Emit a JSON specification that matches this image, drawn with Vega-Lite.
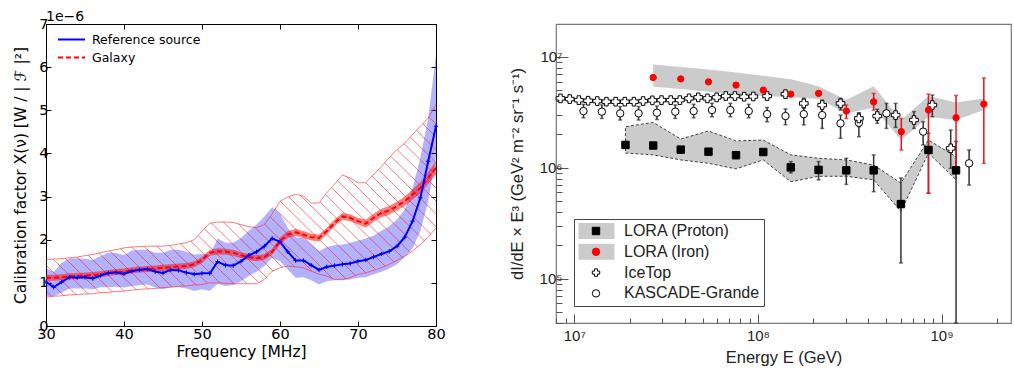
{
"$schema": "https://vega.github.io/schema/vega-lite/v6.json",
"background": "white",
"padding": {"left": 13, "top": 9, "right": 0, "bottom": 0},
"spacing": 62,
"config": {"font": "DejaVu Sans", "view": {"stroke": null}},
"resolve": {"scale": {"color": "independent", "strokeDash": "independent", "fill": "independent", "stroke": "independent", "shape": "independent"}, "legend": {"color": "independent", "strokeDash": "independent", "fill": "independent", "stroke": "independent", "shape": "independent"}},
"datasets": {
"left": [
{"f":30,"b":1.02,"blo":0.69,"bhi":1.33,"r":1.12,"rlo":1.05,"rhi":1.19,"hlo":0.67,"hhi":1.54},
{"f":31,"b":0.90,"blo":0.69,"bhi":1.26,"r":1.12,"rlo":1.05,"rhi":1.19,"hlo":0.69,"hhi":1.55},
{"f":32,"b":1.02,"blo":0.77,"bhi":1.46,"r":1.13,"rlo":1.06,"rhi":1.20,"hlo":0.70,"hhi":1.56},
{"f":33,"b":1.13,"blo":0.87,"bhi":1.57,"r":1.15,"rlo":1.08,"rhi":1.22,"hlo":0.72,"hhi":1.58},
{"f":34,"b":1.12,"blo":0.87,"bhi":1.57,"r":1.16,"rlo":1.09,"rhi":1.23,"hlo":0.73,"hhi":1.60},
{"f":35,"b":1.13,"blo":0.87,"bhi":1.56,"r":1.17,"rlo":1.10,"rhi":1.24,"hlo":0.74,"hhi":1.63},
{"f":36,"b":1.10,"blo":0.85,"bhi":1.53,"r":1.18,"rlo":1.11,"rhi":1.25,"hlo":0.75,"hhi":1.66},
{"f":37,"b":1.17,"blo":0.90,"bhi":1.62,"r":1.20,"rlo":1.13,"rhi":1.27,"hlo":0.77,"hhi":1.70},
{"f":38,"b":1.23,"blo":0.90,"bhi":1.70,"r":1.23,"rlo":1.16,"rhi":1.30,"hlo":0.78,"hhi":1.74},
{"f":39,"b":1.24,"blo":0.91,"bhi":1.69,"r":1.25,"rlo":1.18,"rhi":1.32,"hlo":0.80,"hhi":1.77},
{"f":40,"b":1.21,"blo":0.89,"bhi":1.64,"r":1.26,"rlo":1.19,"rhi":1.33,"hlo":0.81,"hhi":1.81},
{"f":41,"b":1.27,"blo":0.92,"bhi":1.75,"r":1.29,"rlo":1.22,"rhi":1.36,"hlo":0.83,"hhi":1.83},
{"f":42,"b":1.30,"blo":0.95,"bhi":1.77,"r":1.31,"rlo":1.24,"rhi":1.38,"hlo":0.85,"hhi":1.84},
{"f":43,"b":1.32,"blo":0.96,"bhi":1.77,"r":1.32,"rlo":1.25,"rhi":1.39,"hlo":0.86,"hhi":1.85},
{"f":44,"b":1.26,"blo":0.89,"bhi":1.70,"r":1.33,"rlo":1.26,"rhi":1.40,"hlo":0.87,"hhi":1.85},
{"f":45,"b":1.23,"blo":0.85,"bhi":1.70,"r":1.35,"rlo":1.28,"rhi":1.42,"hlo":0.89,"hhi":1.85},
{"f":46,"b":1.30,"blo":0.90,"bhi":1.77,"r":1.36,"rlo":1.29,"rhi":1.43,"hlo":0.90,"hhi":1.87},
{"f":47,"b":1.29,"blo":0.90,"bhi":1.77,"r":1.38,"rlo":1.31,"rhi":1.45,"hlo":0.92,"hhi":1.90},
{"f":48,"b":1.24,"blo":0.87,"bhi":1.72,"r":1.39,"rlo":1.32,"rhi":1.46,"hlo":0.93,"hhi":1.93},
{"f":49,"b":1.20,"blo":0.81,"bhi":1.66,"r":1.43,"rlo":1.36,"rhi":1.50,"hlo":0.95,"hhi":2.00},
{"f":50,"b":1.22,"blo":0.85,"bhi":1.67,"r":1.53,"rlo":1.46,"rhi":1.60,"hlo":0.96,"hhi":2.20},
{"f":51,"b":1.22,"blo":0.81,"bhi":1.66,"r":1.70,"rlo":1.63,"rhi":1.77,"hlo":1.00,"hhi":2.38},
{"f":52,"b":1.49,"blo":0.98,"bhi":2.03,"r":1.73,"rlo":1.66,"rhi":1.80,"hlo":1.00,"hhi":2.41},
{"f":53,"b":1.41,"blo":0.93,"bhi":1.93,"r":1.72,"rlo":1.65,"rhi":1.79,"hlo":0.99,"hhi":2.41},
{"f":54,"b":1.40,"blo":0.95,"bhi":1.93,"r":1.70,"rlo":1.63,"rhi":1.77,"hlo":0.98,"hhi":2.40},
{"f":55,"b":1.50,"blo":1.04,"bhi":2.04,"r":1.64,"rlo":1.57,"rhi":1.71,"hlo":0.98,"hhi":2.35},
{"f":56,"b":1.64,"blo":1.16,"bhi":2.21,"r":1.60,"rlo":1.53,"rhi":1.67,"hlo":0.98,"hhi":2.30},
{"f":57,"b":1.72,"blo":1.26,"bhi":2.35,"r":1.57,"rlo":1.50,"rhi":1.64,"hlo":0.98,"hhi":2.28},
{"f":58,"b":1.85,"blo":1.39,"bhi":2.54,"r":1.60,"rlo":1.53,"rhi":1.67,"hlo":1.08,"hhi":2.35},
{"f":59,"b":2.03,"blo":1.58,"bhi":2.75,"r":1.72,"rlo":1.65,"rhi":1.79,"hlo":1.27,"hhi":2.60},
{"f":60,"b":1.95,"blo":1.50,"bhi":2.60,"r":1.97,"rlo":1.89,"rhi":2.05,"hlo":1.35,"hhi":2.89},
{"f":61,"b":1.72,"blo":1.31,"bhi":2.27,"r":2.12,"rlo":2.04,"rhi":2.20,"hlo":1.39,"hhi":2.99},
{"f":62,"b":1.52,"blo":1.12,"bhi":2.06,"r":2.17,"rlo":2.09,"rhi":2.25,"hlo":1.37,"hhi":3.05},
{"f":63,"b":1.52,"blo":1.13,"bhi":2.04,"r":2.12,"rlo":2.04,"rhi":2.20,"hlo":1.35,"hhi":3.01},
{"f":64,"b":1.41,"blo":1.06,"bhi":1.89,"r":2.06,"rlo":1.98,"rhi":2.14,"hlo":1.27,"hhi":2.85},
{"f":65,"b":1.30,"blo":0.96,"bhi":1.73,"r":2.04,"rlo":1.96,"rhi":2.12,"hlo":1.20,"hhi":2.85},
{"f":66,"b":1.37,"blo":1.04,"bhi":1.83,"r":2.20,"rlo":2.12,"rhi":2.28,"hlo":1.16,"hhi":3.09},
{"f":67,"b":1.40,"blo":1.06,"bhi":1.87,"r":2.39,"rlo":2.31,"rhi":2.47,"hlo":1.08,"hhi":3.29},
{"f":68,"b":1.43,"blo":1.06,"bhi":1.89,"r":2.54,"rlo":2.46,"rhi":2.62,"hlo":1.08,"hhi":3.50},
{"f":69,"b":1.45,"blo":1.08,"bhi":1.93,"r":2.51,"rlo":2.43,"rhi":2.59,"hlo":1.12,"hhi":3.43},
{"f":70,"b":1.50,"blo":1.12,"bhi":1.98,"r":2.43,"rlo":2.35,"rhi":2.51,"hlo":1.20,"hhi":3.32},
{"f":71,"b":1.53,"blo":1.13,"bhi":2.03,"r":2.37,"rlo":2.28,"rhi":2.46,"hlo":1.23,"hhi":3.32},
{"f":72,"b":1.60,"blo":1.20,"bhi":2.10,"r":2.51,"rlo":2.42,"rhi":2.60,"hlo":1.29,"hhi":3.51},
{"f":73,"b":1.67,"blo":1.26,"bhi":2.21,"r":2.62,"rlo":2.52,"rhi":2.72,"hlo":1.35,"hhi":3.70},
{"f":74,"b":1.73,"blo":1.33,"bhi":2.31,"r":2.68,"rlo":2.58,"rhi":2.78,"hlo":1.43,"hhi":3.90},
{"f":75,"b":1.85,"blo":1.43,"bhi":2.47,"r":2.78,"rlo":2.68,"rhi":2.88,"hlo":1.52,"hhi":4.09},
{"f":76,"b":2.06,"blo":1.60,"bhi":2.70,"r":2.89,"rlo":2.78,"rhi":3.00,"hlo":1.62,"hhi":4.24},
{"f":77,"b":2.43,"blo":1.80,"bhi":3.20,"r":3.05,"rlo":2.93,"rhi":3.17,"hlo":1.74,"hhi":4.44},
{"f":78,"b":2.97,"blo":2.20,"bhi":3.90,"r":3.20,"rlo":3.07,"rhi":3.33,"hlo":1.89,"hhi":4.63},
{"f":79,"b":3.82,"blo":2.89,"bhi":4.82,"r":3.43,"rlo":3.29,"rhi":3.57,"hlo":2.06,"hhi":4.82},
{"f":80,"b":4.63,"blo":3.90,"bhi":6.29,"r":3.67,"rlo":3.52,"rhi":3.82,"hlo":2.28,"hhi":5.13}
],
"proton": [
{"E":1.90e7,"v":1.61e6,"blo":1.36e6,"bhi":2.35e6},
{"E":2.69e7,"v":1.59e6,"blo":1.31e6,"bhi":2.57e6},
{"E":3.80e7,"v":1.46e6,"blo":1.18e6,"bhi":1.82e6},
{"E":5.38e7,"v":1.40e6,"blo":1.10e6,"bhi":2.15e6},
{"E":7.60e7,"v":1.30e6,"blo":0.98e6,"bhi":1.75e6},
{"E":1.07e8,"v":1.39e6,"blo":1.18e6,"bhi":1.78e6},
{"E":1.51e8,"v":1.01e6,"lo":0.90e6,"hi":1.14e6,"blo":7.5e5,"bhi":1.31e6},
{"E":2.14e8,"v":9.6e5,"lo":7.8e5,"hi":1.14e6,"blo":8.4e5,"bhi":1.22e6},
{"E":3.03e8,"v":9.5e5,"lo":7.1e5,"hi":1.22e6,"blo":8.4e5,"bhi":1.18e6},
{"E":4.27e8,"v":9.5e5,"lo":6.1e5,"hi":1.31e6,"blo":7.8e5,"bhi":1.06e6},
{"E":6.01e8,"v":4.72e5,"lo":1.39e5,"hi":8.1e5,"blo":4.05e5,"bhi":7.3e5},
{"E":8.49e8,"v":1.45e6,"lo":5.9e5,"hi":2.05e6,"blo":1.36e6,"bhi":1.78e6},
{"E":1.20e9,"v":9.5e5,"lo":4.0e4,"hi":1.73e6,"blo":7.8e5,"bhi":1.26e6}
],
"iron": [
{"E":2.69e7,"v":6.52e6,"blo":5.38e6,"bhi":8.53e6},
{"E":3.80e7,"v":6.34e6,"blo":5.13e6,"bhi":8.13e6},
{"E":5.38e7,"v":5.96e6,"blo":4.85e6,"bhi":7.70e6},
{"E":7.60e7,"v":5.57e6,"blo":4.59e6,"bhi":7.23e6},
{"E":1.07e8,"v":5.02e6,"blo":4.44e6,"bhi":6.75e6},
{"E":1.51e8,"v":4.62e6,"blo":4.32e6,"bhi":6.30e6},
{"E":2.14e8,"v":4.69e6,"blo":4.17e6,"bhi":5.45e6},
{"E":3.03e8,"v":3.25e6,"lo":2.79e6,"hi":3.68e6,"blo":3.10e6,"bhi":4.08e6},
{"E":4.27e8,"v":3.94e6,"lo":3.32e6,"hi":4.69e6,"blo":3.48e6,"bhi":5.45e6},
{"E":6.04e8,"v":2.12e6,"lo":1.45e6,"hi":2.79e6,"blo":1.78e6,"bhi":2.70e6},
{"E":8.49e8,"v":3.32e6,"lo":5.9e5,"hi":4.62e6,"blo":2.89e6,"bhi":4.44e6},
{"E":1.20e9,"v":2.83e6,"lo":1.0e6,"hi":4.5e6,"blo":2.70e6,"bhi":3.89e6},
{"E":1.70e9,"v":3.76e6,"lo":1.10e6,"hi":6.47e6,"blo":3.32e6,"bhi":4.23e6}
],
"icetop": [
{"E":8.41e6,"v":4.23e6},{"E":9.44e6,"v":4.17e6},{"E":1.059e7,"v":4.08e6},{"E":1.189e7,"v":4.03e6},
{"E":1.334e7,"v":4.00e6},{"E":1.496e7,"v":3.95e6},{"E":1.679e7,"v":3.95e6},{"E":1.884e7,"v":3.95e6},
{"E":2.113e7,"v":3.95e6},{"E":2.371e7,"v":4.00e6},{"E":2.661e7,"v":4.06e6},{"E":2.985e7,"v":4.08e6},
{"E":3.350e7,"v":4.08e6},{"E":3.758e7,"v":4.08e6},{"E":4.217e7,"v":4.23e6},{"E":4.732e7,"v":4.32e6},
{"E":5.309e7,"v":4.23e6},{"E":5.957e7,"v":4.32e6},{"E":6.683e7,"v":4.44e6},{"E":7.499e7,"v":4.44e6},
{"E":8.414e7,"v":4.38e6},{"E":9.441e7,"v":4.40e6},
{"E":1.122e8,"v":4.44e6},{"E":1.413e8,"v":4.62e6},
{"E":1.778e8,"v":3.81e6,"lo":3.44e6,"hi":4.23e6},
{"E":2.239e8,"v":3.68e6,"lo":3.12e6,"hi":4.08e6},
{"E":2.818e8,"v":3.81e6,"lo":3.32e6,"hi":4.23e6},
{"E":3.548e8,"v":2.79e6,"lo":2.35e6,"hi":3.14e6},
{"E":4.467e8,"v":2.93e6,"lo":2.52e6,"hi":3.37e6},
{"E":5.623e8,"v":2.99e6,"lo":2.32e6,"hi":3.81e6},
{"E":7.079e8,"v":2.70e6,"lo":2.27e6,"hi":3.21e6},
{"E":8.913e8,"v":3.68e6,"lo":2.89e6,"hi":4.53e6},
{"E":1.122e9,"v":1.50e6,"lo":9.9e5,"hi":2.19e6}
],
"kg": [
{"E":1.122e7,"v":3.25e6,"lo":2.83e6,"hi":3.74e6},
{"E":1.413e7,"v":3.21e6,"lo":2.79e6,"hi":3.69e6},
{"E":1.778e7,"v":3.10e6,"lo":2.70e6,"hi":3.57e6},
{"E":2.239e7,"v":3.10e6,"lo":2.70e6,"hi":3.57e6},
{"E":2.818e7,"v":3.14e6,"lo":2.73e6,"hi":3.61e6},
{"E":3.548e7,"v":3.21e6,"lo":2.79e6,"hi":3.69e6},
{"E":4.467e7,"v":3.25e6,"lo":2.83e6,"hi":3.74e6},
{"E":5.623e7,"v":3.32e6,"lo":2.89e6,"hi":3.82e6},
{"E":7.079e7,"v":3.32e6,"lo":2.89e6,"hi":3.82e6},
{"E":8.913e7,"v":3.25e6,"lo":2.83e6,"hi":3.74e6},
{"E":1.122e8,"v":3.05e6,"lo":2.60e6,"hi":3.50e6},
{"E":1.413e8,"v":2.93e6,"lo":2.45e6,"hi":3.40e6},
{"E":1.778e8,"v":3.05e6,"lo":2.44e6,"hi":3.56e6},
{"E":2.239e8,"v":2.99e6,"lo":2.27e6,"hi":3.44e6},
{"E":2.818e8,"v":2.52e6,"lo":1.85e6,"hi":2.99e6},
{"E":3.548e8,"v":2.55e6,"lo":1.91e6,"hi":3.10e6},
{"E":5.012e8,"v":3.10e6,"lo":2.27e6,"hi":3.81e6},
{"E":7.943e8,"v":2.12e6,"lo":1.61e6,"hi":2.61e6},
{"E":1.413e9,"v":1.10e6,"lo":7.0e5,"hi":1.45e6}
],
"note": [{"label": "1e−6"}]
},
"hconcat": [
{
"width": 390, "height": 302,
"data": {"name": "left"},
"view": {"stroke": "black", "strokeWidth": 1},
"resolve": {"axis": {"x": "independent", "y": "independent"}},
"layer": [
{"mark": {"type": "area", "color": "#0000ff", "opacity": 0.3},
 "encoding": {
  "x": {"field": "f", "type": "quantitative", "scale": {"domain": [30, 80], "nice": false, "zero": false},
        "axis": {"orient": "bottom", "values": [30,40,50,60,70,80], "title": "Frequency [MHz]", "tickSize": -5, "tickColor": "black", "domain": false, "grid": false, "labelFont": "DejaVu Sans", "labelFontSize": 14.5, "labelColor": "black", "labelPadding": 6, "labelFlush": false, "titleFont": "DejaVu Sans", "titleFontSize": 15.5, "titleFontWeight": "normal", "titleColor": "black", "titlePadding": 4}},
  "y": {"field": "blo", "type": "quantitative", "scale": {"domain": [0, 7], "nice": false, "zero": false},
        "axis": {"orient": "left", "values": [0,1,2,3,4,5,6,7], "title": "Calibration factor X(ν) [W / | ℱ |²]", "tickSize": -5, "tickColor": "black", "domain": false, "grid": false, "labelFont": "DejaVu Sans", "labelFontSize": 14.5, "labelColor": "black", "labelPadding": 3, "labelFlush": false, "titleFont": "DejaVu Sans", "titleFontSize": 15.5, "titleFontWeight": "normal", "titleColor": "black", "titlePadding": 10}},
  "y2": {"field": "bhi"}
 }},
{"mark": {"type": "area", "fill": {"gradient": "linear", "x1": 0, "y1": 1, "x2": 1.2, "y2": 0.4, "stops": [
{"offset":0.0095,"color":"rgba(255,0,0,0)"},{"offset":0.0111,"color":"rgba(235,30,30,0.6)"},{"offset":0.0127,"color":"rgba(255,0,0,0)"},
{"offset":0.0317,"color":"rgba(255,0,0,0)"},{"offset":0.0333,"color":"rgba(235,30,30,0.6)"},{"offset":0.0349,"color":"rgba(255,0,0,0)"},
{"offset":0.0540,"color":"rgba(255,0,0,0)"},{"offset":0.0556,"color":"rgba(235,30,30,0.6)"},{"offset":0.0572,"color":"rgba(255,0,0,0)"},
{"offset":0.0762,"color":"rgba(255,0,0,0)"},{"offset":0.0778,"color":"rgba(235,30,30,0.6)"},{"offset":0.0794,"color":"rgba(255,0,0,0)"},
{"offset":0.0984,"color":"rgba(255,0,0,0)"},{"offset":0.1000,"color":"rgba(235,30,30,0.6)"},{"offset":0.1016,"color":"rgba(255,0,0,0)"},
{"offset":0.1206,"color":"rgba(255,0,0,0)"},{"offset":0.1222,"color":"rgba(235,30,30,0.6)"},{"offset":0.1238,"color":"rgba(255,0,0,0)"},
{"offset":0.1428,"color":"rgba(255,0,0,0)"},{"offset":0.1444,"color":"rgba(235,30,30,0.6)"},{"offset":0.1460,"color":"rgba(255,0,0,0)"},
{"offset":0.1651,"color":"rgba(255,0,0,0)"},{"offset":0.1667,"color":"rgba(235,30,30,0.6)"},{"offset":0.1683,"color":"rgba(255,0,0,0)"},
{"offset":0.1873,"color":"rgba(255,0,0,0)"},{"offset":0.1889,"color":"rgba(235,30,30,0.6)"},{"offset":0.1905,"color":"rgba(255,0,0,0)"},
{"offset":0.2095,"color":"rgba(255,0,0,0)"},{"offset":0.2111,"color":"rgba(235,30,30,0.6)"},{"offset":0.2127,"color":"rgba(255,0,0,0)"},
{"offset":0.2317,"color":"rgba(255,0,0,0)"},{"offset":0.2333,"color":"rgba(235,30,30,0.6)"},{"offset":0.2349,"color":"rgba(255,0,0,0)"},
{"offset":0.2540,"color":"rgba(255,0,0,0)"},{"offset":0.2556,"color":"rgba(235,30,30,0.6)"},{"offset":0.2572,"color":"rgba(255,0,0,0)"},
{"offset":0.2762,"color":"rgba(255,0,0,0)"},{"offset":0.2778,"color":"rgba(235,30,30,0.6)"},{"offset":0.2794,"color":"rgba(255,0,0,0)"},
{"offset":0.2984,"color":"rgba(255,0,0,0)"},{"offset":0.3000,"color":"rgba(235,30,30,0.6)"},{"offset":0.3016,"color":"rgba(255,0,0,0)"},
{"offset":0.3206,"color":"rgba(255,0,0,0)"},{"offset":0.3222,"color":"rgba(235,30,30,0.6)"},{"offset":0.3238,"color":"rgba(255,0,0,0)"},
{"offset":0.3428,"color":"rgba(255,0,0,0)"},{"offset":0.3444,"color":"rgba(235,30,30,0.6)"},{"offset":0.3460,"color":"rgba(255,0,0,0)"},
{"offset":0.3651,"color":"rgba(255,0,0,0)"},{"offset":0.3667,"color":"rgba(235,30,30,0.6)"},{"offset":0.3683,"color":"rgba(255,0,0,0)"},
{"offset":0.3873,"color":"rgba(255,0,0,0)"},{"offset":0.3889,"color":"rgba(235,30,30,0.6)"},{"offset":0.3905,"color":"rgba(255,0,0,0)"},
{"offset":0.4095,"color":"rgba(255,0,0,0)"},{"offset":0.4111,"color":"rgba(235,30,30,0.6)"},{"offset":0.4127,"color":"rgba(255,0,0,0)"},
{"offset":0.4317,"color":"rgba(255,0,0,0)"},{"offset":0.4333,"color":"rgba(235,30,30,0.6)"},{"offset":0.4349,"color":"rgba(255,0,0,0)"},
{"offset":0.4540,"color":"rgba(255,0,0,0)"},{"offset":0.4556,"color":"rgba(235,30,30,0.6)"},{"offset":0.4572,"color":"rgba(255,0,0,0)"},
{"offset":0.4762,"color":"rgba(255,0,0,0)"},{"offset":0.4778,"color":"rgba(235,30,30,0.6)"},{"offset":0.4794,"color":"rgba(255,0,0,0)"},
{"offset":0.4984,"color":"rgba(255,0,0,0)"},{"offset":0.5000,"color":"rgba(235,30,30,0.6)"},{"offset":0.5016,"color":"rgba(255,0,0,0)"},
{"offset":0.5206,"color":"rgba(255,0,0,0)"},{"offset":0.5222,"color":"rgba(235,30,30,0.6)"},{"offset":0.5238,"color":"rgba(255,0,0,0)"},
{"offset":0.5428,"color":"rgba(255,0,0,0)"},{"offset":0.5444,"color":"rgba(235,30,30,0.6)"},{"offset":0.5460,"color":"rgba(255,0,0,0)"},
{"offset":0.5651,"color":"rgba(255,0,0,0)"},{"offset":0.5667,"color":"rgba(235,30,30,0.6)"},{"offset":0.5683,"color":"rgba(255,0,0,0)"},
{"offset":0.5873,"color":"rgba(255,0,0,0)"},{"offset":0.5889,"color":"rgba(235,30,30,0.6)"},{"offset":0.5905,"color":"rgba(255,0,0,0)"},
{"offset":0.6095,"color":"rgba(255,0,0,0)"},{"offset":0.6111,"color":"rgba(235,30,30,0.6)"},{"offset":0.6127,"color":"rgba(255,0,0,0)"},
{"offset":0.6317,"color":"rgba(255,0,0,0)"},{"offset":0.6333,"color":"rgba(235,30,30,0.6)"},{"offset":0.6349,"color":"rgba(255,0,0,0)"},
{"offset":0.6540,"color":"rgba(255,0,0,0)"},{"offset":0.6556,"color":"rgba(235,30,30,0.6)"},{"offset":0.6572,"color":"rgba(255,0,0,0)"},
{"offset":0.6762,"color":"rgba(255,0,0,0)"},{"offset":0.6778,"color":"rgba(235,30,30,0.6)"},{"offset":0.6794,"color":"rgba(255,0,0,0)"},
{"offset":0.6984,"color":"rgba(255,0,0,0)"},{"offset":0.7000,"color":"rgba(235,30,30,0.6)"},{"offset":0.7016,"color":"rgba(255,0,0,0)"},
{"offset":0.7206,"color":"rgba(255,0,0,0)"},{"offset":0.7222,"color":"rgba(235,30,30,0.6)"},{"offset":0.7238,"color":"rgba(255,0,0,0)"},
{"offset":0.7428,"color":"rgba(255,0,0,0)"},{"offset":0.7444,"color":"rgba(235,30,30,0.6)"},{"offset":0.7460,"color":"rgba(255,0,0,0)"},
{"offset":0.7651,"color":"rgba(255,0,0,0)"},{"offset":0.7667,"color":"rgba(235,30,30,0.6)"},{"offset":0.7683,"color":"rgba(255,0,0,0)"},
{"offset":0.7873,"color":"rgba(255,0,0,0)"},{"offset":0.7889,"color":"rgba(235,30,30,0.6)"},{"offset":0.7905,"color":"rgba(255,0,0,0)"},
{"offset":0.8095,"color":"rgba(255,0,0,0)"},{"offset":0.8111,"color":"rgba(235,30,30,0.6)"},{"offset":0.8127,"color":"rgba(255,0,0,0)"},
{"offset":0.8317,"color":"rgba(255,0,0,0)"},{"offset":0.8333,"color":"rgba(235,30,30,0.6)"},{"offset":0.8349,"color":"rgba(255,0,0,0)"},
{"offset":0.8540,"color":"rgba(255,0,0,0)"},{"offset":0.8556,"color":"rgba(235,30,30,0.6)"},{"offset":0.8572,"color":"rgba(255,0,0,0)"},
{"offset":0.8762,"color":"rgba(255,0,0,0)"},{"offset":0.8778,"color":"rgba(235,30,30,0.6)"},{"offset":0.8794,"color":"rgba(255,0,0,0)"},
{"offset":0.8984,"color":"rgba(255,0,0,0)"},{"offset":0.9000,"color":"rgba(235,30,30,0.6)"},{"offset":0.9016,"color":"rgba(255,0,0,0)"},
{"offset":0.9206,"color":"rgba(255,0,0,0)"},{"offset":0.9222,"color":"rgba(235,30,30,0.6)"},{"offset":0.9238,"color":"rgba(255,0,0,0)"},
{"offset":0.9428,"color":"rgba(255,0,0,0)"},{"offset":0.9444,"color":"rgba(235,30,30,0.6)"},{"offset":0.9460,"color":"rgba(255,0,0,0)"},
{"offset":0.9651,"color":"rgba(255,0,0,0)"},{"offset":0.9667,"color":"rgba(235,30,30,0.6)"},{"offset":0.9683,"color":"rgba(255,0,0,0)"},
{"offset":0.9873,"color":"rgba(255,0,0,0)"},{"offset":0.9889,"color":"rgba(235,30,30,0.6)"},{"offset":0.9905,"color":"rgba(255,0,0,0)"}
]}},
 "encoding": {
  "x": {"field": "f", "type": "quantitative", "axis": null},
  "y": {"field": "hlo", "type": "quantitative", "axis": null},
  "y2": {"field": "hhi"}
 }},
{"mark": {"type": "line", "color": "#ff3030", "strokeWidth": 0.8, "opacity": 0.8},
 "encoding": {
  "x": {"field": "f", "type": "quantitative", "axis": {"orient": "top", "values": [30,40,50,60,70,80], "labels": false, "title": null, "tickSize": -5, "tickColor": "black", "domain": false, "grid": false}},
  "y": {"field": "hhi", "type": "quantitative", "axis": {"orient": "right", "values": [0,1,2,3,4,5,6,7], "labels": false, "title": null, "tickSize": -5, "tickColor": "black", "domain": false, "grid": false}}
 }},
{"mark": {"type": "line", "color": "#ff3030", "strokeWidth": 0.8, "opacity": 0.8},
 "encoding": {
  "x": {"field": "f", "type": "quantitative", "axis": null},
  "y": {"field": "hlo", "type": "quantitative", "axis": null}
 }},
{"mark": {"type": "area", "color": "#ff0000", "opacity": 0.5},
 "encoding": {
  "x": {"field": "f", "type": "quantitative", "axis": null},
  "y": {"field": "rlo", "type": "quantitative", "axis": null},
  "y2": {"field": "rhi"}
 }},
{"mark": {"type": "line", "strokeWidth": 2},
 "encoding": {
  "x": {"field": "f", "type": "quantitative", "axis": null},
  "y": {"field": "r", "type": "quantitative", "axis": null},
  "color": {"datum": "Galaxy", "type": "nominal", "scale": {"domain": ["Reference source", "Galaxy"], "range": ["#0000ff", "#ff0000"]},
    "legend": {"orient": "top-left", "offset": 5, "padding": 4, "title": null, "symbolType": "stroke", "symbolSize": 729, "symbolStrokeWidth": 2, "clipHeight": 13, "rowPadding": 5, "symbolOffset": 2, "labelOffset": 6, "labelFont": "DejaVu Sans", "labelFontSize": 12.5, "labelFontWeight": "normal", "labelColor": "black"}},
  "strokeDash": {"datum": "Galaxy", "type": "nominal", "scale": {"domain": ["Reference source", "Galaxy"], "range": [[1, 0], [5, 3]]},
    "legend": {"orient": "top-left", "offset": 5, "padding": 4, "title": null, "symbolType": "stroke", "symbolSize": 729, "symbolStrokeWidth": 2, "clipHeight": 13, "rowPadding": 5, "symbolOffset": 2, "labelOffset": 6, "labelFont": "DejaVu Sans", "labelFontSize": 12.5, "labelFontWeight": "normal", "labelColor": "black"}}
 }},
{"mark": {"type": "line", "strokeWidth": 2},
 "encoding": {
  "x": {"field": "f", "type": "quantitative", "axis": null},
  "y": {"field": "b", "type": "quantitative", "axis": null},
  "color": {"datum": "Reference source", "type": "nominal"},
  "strokeDash": {"datum": "Reference source", "type": "nominal"}
 }},
{"mark": {"type": "point", "shape": "M0,-1V1M-1,0H1", "filled": false, "color": "#0000ff", "size": 20, "strokeWidth": 1, "opacity": 1},
 "encoding": {
  "x": {"field": "f", "type": "quantitative", "axis": null},
  "y": {"field": "b", "type": "quantitative", "axis": null}
 }},
{"data": {"name": "note"},
 "mark": {"type": "text", "align": "left", "baseline": "alphabetic", "dy": -3, "font": "DejaVu Sans", "fontSize": 14, "color": "black"},
 "encoding": {
  "text": {"field": "label", "type": "nominal"},
  "x": {"datum": 30, "type": "quantitative", "axis": null},
  "y": {"datum": 7, "type": "quantitative", "axis": null}
 }}
]
},
{
"width": 455, "height": 299,
"view": {"stroke": "#777", "strokeWidth": 1.2},
"resolve": {"axis": {"x": "independent", "y": "independent"}},
"layer": [
{"data": {"name": "iron"},
 "mark": {"type": "area", "opacity": 1},
 "encoding": {
  "x": {"field": "E", "type": "quantitative", "scale": {"type": "log", "domain": [7.95e6, 2.39e9], "nice": false, "zero": false},
        "axis": {"orient": "bottom", "values": [8000000,9000000,10000000,20000000,30000000,40000000,50000000,60000000,70000000,80000000,90000000,100000000,200000000,300000000,400000000,500000000,600000000,700000000,800000000,900000000,1000000000,2000000000],
                 "labelExpr": "datum.value == 10000000 ? '10⁷' : datum.value == 100000000 ? '10⁸' : datum.value == 1000000000 ? '10⁹' : ''",
                 "tickSize": {"condition": {"test": "datum.value == 10000000 || datum.value == 100000000 || datum.value == 1000000000", "value": -9}, "value": -5},
                 "title": "Energy E (GeV)", "domain": false, "grid": false, "labelOverlap": false, "labelFlush": false, "labelPadding": 14, "tickColor": "#555",
                 "labelFont": "Liberation Sans", "labelFontSize": 15, "labelColor": "#222", "titleFont": "Liberation Sans", "titleFontSize": 16.5, "titleFontWeight": "normal", "titleColor": "#222", "titlePadding": 2}},
  "y": {"field": "blo", "type": "quantitative", "stack": null, "scale": {"type": "log", "domain": [4.0e4, 1.98e7], "nice": false, "zero": false, "clamp": true},
        "axis": {"orient": "left", "values": [40000,50000,60000,70000,80000,90000,100000,200000,300000,400000,500000,600000,700000,800000,900000,1000000,2000000,3000000,4000000,5000000,6000000,7000000,8000000,9000000,10000000],
                 "labelExpr": "datum.value == 100000 ? '10⁵' : datum.value == 1000000 ? '10⁶' : datum.value == 10000000 ? '10⁷' : ''",
                 "tickSize": {"condition": {"test": "datum.value == 100000 || datum.value == 1000000 || datum.value == 10000000", "value": -12}, "value": -6},
                 "title": "dI/dE × E³ (GeV² m⁻² sr⁻¹ s⁻¹)", "domain": false, "grid": false, "labelOverlap": false, "labelFlush": false, "labelPadding": 6, "tickColor": "#555",
                 "labelFont": "Liberation Sans", "labelFontSize": 15, "labelColor": "#222", "titleFont": "Liberation Sans", "titleFontSize": 16.5, "titleFontWeight": "normal", "titleColor": "#222", "titlePadding": 14}},
  "y2": {"field": "bhi"},
  "color": {"datum": "LORA (Iron)", "type": "nominal", "scale": {"domain": ["LORA (Proton)", "LORA (Iron)"], "range": ["#cbcbcb", "#cbcbcb"]},
    "legend": {"orient": "none", "legendX": 22, "legendY": 199, "title": null, "padding": 0, "clipHeight": 16, "rowPadding": 4.8, "symbolType": "M-1,-0.47H1V0.47H-1Z", "symbolSize": 1296, "symbolDash": [3, 2], "symbolStrokeWidth": 1, "symbolOffset": 0, "labelExpr": "''",
      "encode": {"symbols": {"update": {"stroke": {"signal": "datum.value === 'LORA (Proton)' ? '#444' : 'transparent'"}}}}}}
 }},
{"data": {"name": "proton"},
 "mark": {"type": "area", "opacity": 1, "stroke": "#444", "strokeDash": [3, 2], "strokeWidth": 1},
 "encoding": {
  "x": {"field": "E", "type": "quantitative", "axis": null},
  "y": {"field": "blo", "type": "quantitative", "stack": null, "axis": null},
  "y2": {"field": "bhi"},
  "color": {"datum": "LORA (Proton)", "type": "nominal"}
 }},
{"data": {"name": "kg"},
 "mark": {"type": "errorbar", "color": "#333", "thickness": 1.5, "ticks": {"size": 4}},
 "encoding": {
  "x": {"field": "E", "type": "quantitative", "axis": null},
  "y": {"field": "lo", "type": "quantitative", "axis": null},
  "y2": {"field": "hi"}
 }},
{"data": {"name": "icetop"},
 "mark": {"type": "errorbar", "color": "#333", "thickness": 1.5, "ticks": {"size": 4}},
 "encoding": {
  "x": {"field": "E", "type": "quantitative", "axis": null},
  "y": {"field": "lo", "type": "quantitative", "axis": null},
  "y2": {"field": "hi"}
 }},
{"data": {"name": "proton"},
 "mark": {"type": "errorbar", "color": "#333", "thickness": 1.5, "ticks": {"size": 4}},
 "encoding": {
  "x": {"field": "E", "type": "quantitative", "axis": null},
  "y": {"field": "lo", "type": "quantitative", "axis": null},
  "y2": {"field": "hi"}
 }},
{"data": {"name": "iron"},
 "mark": {"type": "errorbar", "color": "#e8101a", "thickness": 1.5, "ticks": {"size": 4}},
 "encoding": {
  "x": {"field": "E", "type": "quantitative", "axis": null},
  "y": {"field": "lo", "type": "quantitative", "axis": null},
  "y2": {"field": "hi"}
 }},
{"data": {"name": "kg"},
 "mark": {"type": "point", "filled": true, "opacity": 1, "size": 55, "strokeWidth": 1},
 "encoding": {
  "x": {"field": "E", "type": "quantitative", "axis": null},
  "y": {"field": "v", "type": "quantitative", "axis": null},
  "shape": {"datum": "KASCADE-Grande", "type": "nominal", "scale": {"domain": ["LORA (Proton)", "LORA (Iron)", "IceTop", "KASCADE-Grande"], "range": ["square", "circle", "cross", "circle"]},
    "legend": {"orient": "none", "legendX": 18, "legendY": 195, "title": null, "padding": 4, "strokeColor": "#444", "clipHeight": 16, "rowPadding": 4.8, "symbolOffset": 10, "labelOffset": 20, "labelFont": "Liberation Sans", "labelFontSize": 16, "labelColor": "#222", "symbolSize": 55, "symbolStrokeWidth": 1, "labelLimit": 300}},
  "fill": {"datum": "KASCADE-Grande", "type": "nominal", "scale": {"domain": ["LORA (Proton)", "LORA (Iron)", "IceTop", "KASCADE-Grande"], "range": ["#000000", "#ff0000", "#ffffff", "#ffffff"]},
    "legend": {"orient": "none", "legendX": 18, "legendY": 195, "title": null, "padding": 4, "strokeColor": "#444", "clipHeight": 16, "rowPadding": 4.8, "symbolOffset": 10, "labelOffset": 20, "labelFont": "Liberation Sans", "labelFontSize": 16, "labelColor": "#222", "symbolSize": 55, "symbolStrokeWidth": 1, "labelLimit": 300}},
  "stroke": {"datum": "KASCADE-Grande", "type": "nominal", "scale": {"domain": ["LORA (Proton)", "LORA (Iron)", "IceTop", "KASCADE-Grande"], "range": ["#000000", "#ff0000", "#000000", "#000000"]},
    "legend": {"orient": "none", "legendX": 18, "legendY": 195, "title": null, "padding": 4, "strokeColor": "#444", "clipHeight": 16, "rowPadding": 4.8, "symbolOffset": 10, "labelOffset": 20, "labelFont": "Liberation Sans", "labelFontSize": 16, "labelColor": "#222", "symbolSize": 55, "symbolStrokeWidth": 1, "labelLimit": 300}}
 }},
{"data": {"name": "icetop"},
 "mark": {"type": "point", "filled": true, "opacity": 1, "size": 75, "strokeWidth": 1},
 "encoding": {
  "x": {"field": "E", "type": "quantitative", "axis": null},
  "y": {"field": "v", "type": "quantitative", "axis": null},
  "shape": {"datum": "IceTop", "type": "nominal"},
  "fill": {"datum": "IceTop", "type": "nominal"},
  "stroke": {"datum": "IceTop", "type": "nominal"}
 }},
{"data": {"name": "iron"},
 "mark": {"type": "point", "filled": true, "opacity": 1, "size": 40, "strokeWidth": 1},
 "encoding": {
  "x": {"field": "E", "type": "quantitative", "axis": null},
  "y": {"field": "v", "type": "quantitative", "axis": null},
  "shape": {"datum": "LORA (Iron)", "type": "nominal"},
  "fill": {"datum": "LORA (Iron)", "type": "nominal"},
  "stroke": {"datum": "LORA (Iron)", "type": "nominal"}
 }},
{"data": {"name": "proton"},
 "mark": {"type": "point", "filled": true, "opacity": 1, "size": 55, "strokeWidth": 1},
 "encoding": {
  "x": {"field": "E", "type": "quantitative", "axis": null},
  "y": {"field": "v", "type": "quantitative", "axis": null},
  "shape": {"datum": "LORA (Proton)", "type": "nominal"},
  "fill": {"datum": "LORA (Proton)", "type": "nominal"},
  "stroke": {"datum": "LORA (Proton)", "type": "nominal"}
 }}
]
}
]
}
